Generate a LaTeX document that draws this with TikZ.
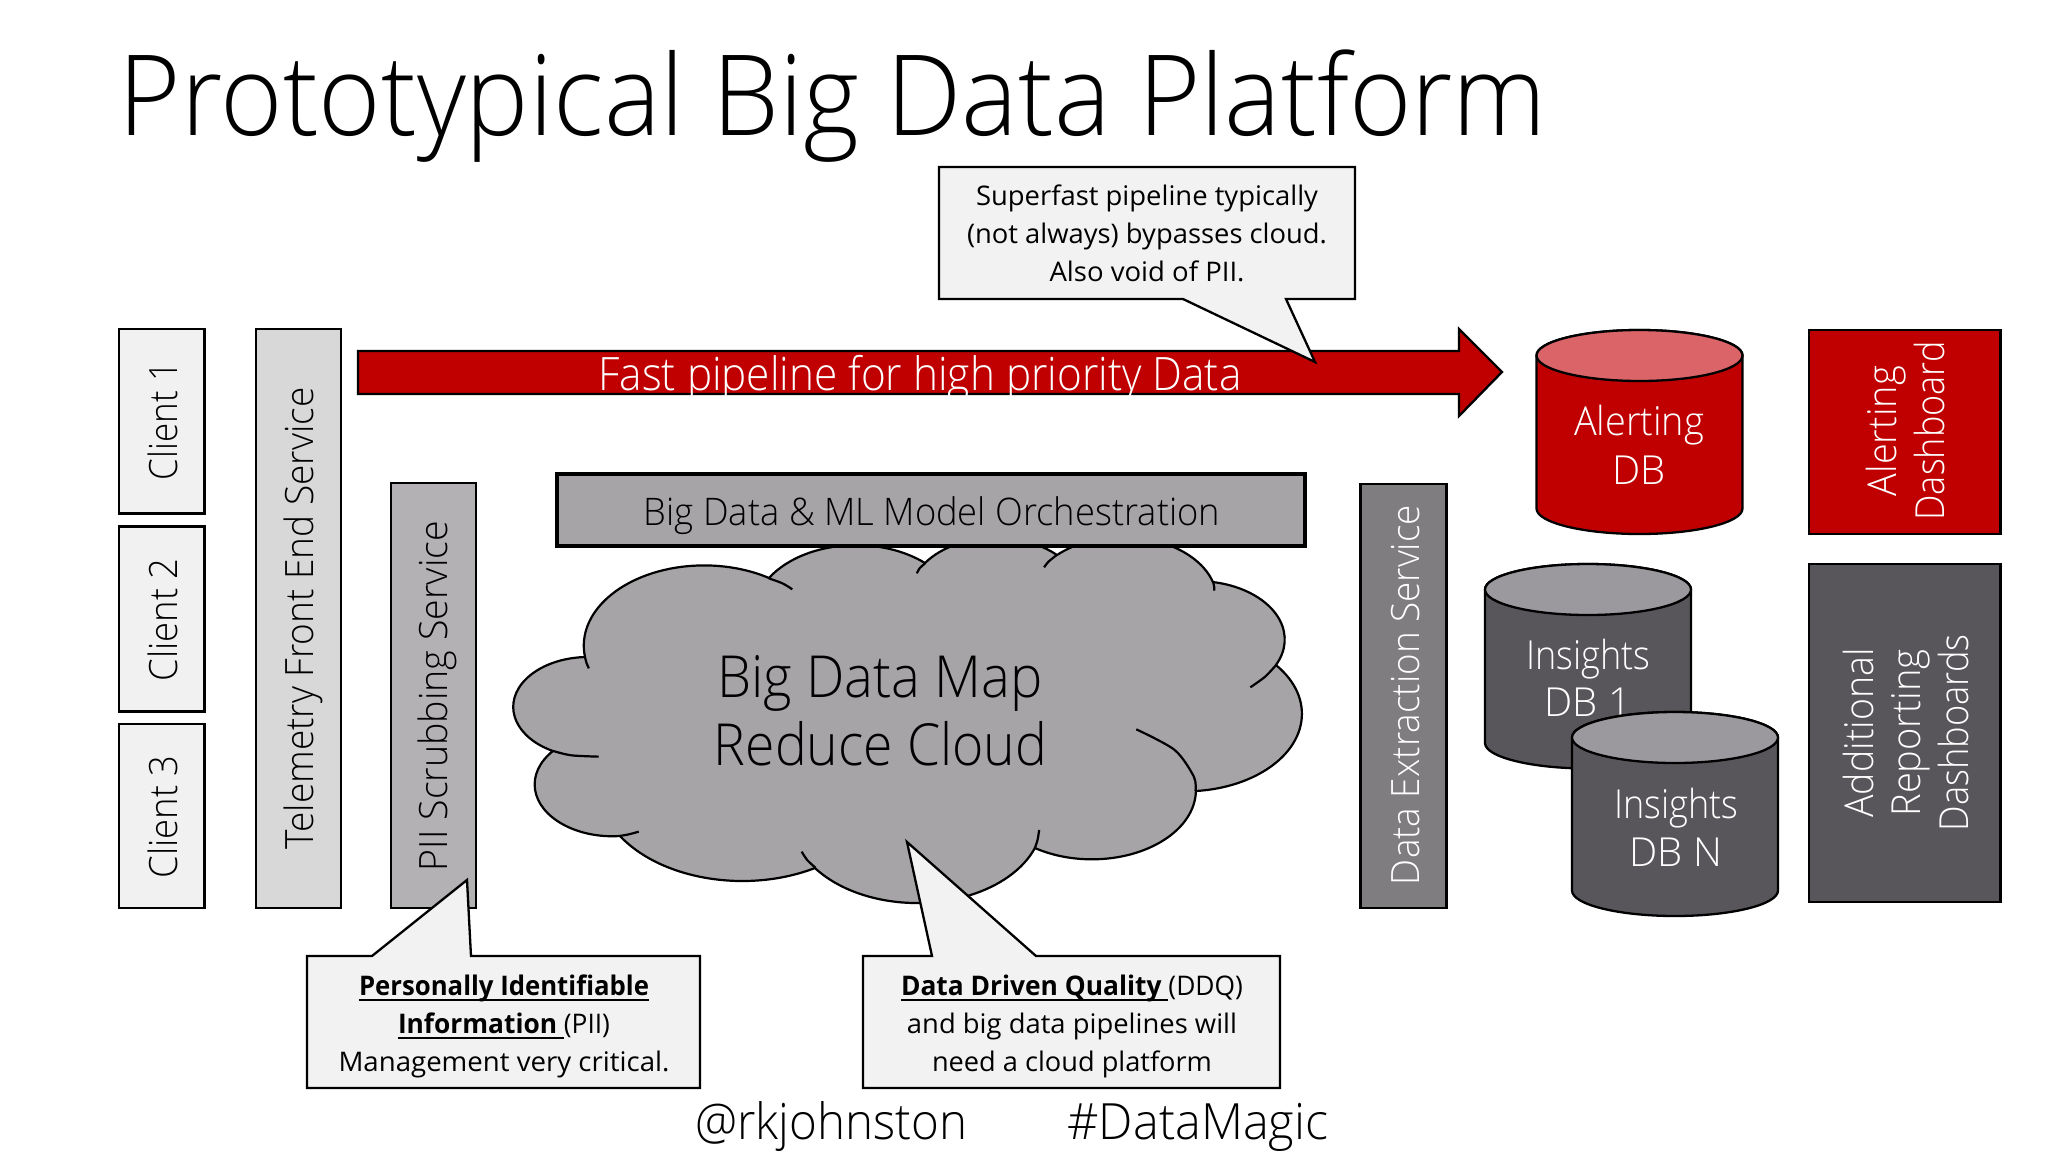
\documentclass[tikz,border=0pt]{standalone}
\usepackage{fontspec}
\usepackage{graphicx}
\setmainfont{Open Sans}
\newfontfamily\lightf{Open Sans Light}
\newfontfamily\notef{Open Sans}
\definecolor{cred}{HTML}{C00000}
\definecolor{credtop}{HTML}{DA6468}
\definecolor{cdark}{HTML}{58565A}
\definecolor{cdarktop}{HTML}{9B999D}
\definecolor{cext}{HTML}{7F7D80}
\definecolor{cpii}{HTML}{B3B1B3}
\definecolor{ctel}{HTML}{D9D8D9}
\definecolor{ccli}{HTML}{F2F1F2}
\definecolor{corch}{HTML}{A6A4A6}
\definecolor{ccall}{HTML}{F2F2F2}
\newcommand\fitw[2]{\resizebox{#1pt}{\height}{#2}}
\newcommand\fs[1]{\fontsize{#1}{#1}\selectfont}
\newcommand\ulbar[1]{\setbox0\hbox{#1}\rlap{\vrule width\wd0 height -3.6pt depth 5.9pt}\box0}
\newcommand\dbcyl[6]{%
  % cx, ytop, ybottom, rx, side, top
  \pgfmathsetmacro\hh{(#3-#2)/25.5-2}
  \begin{scope}[shift={(#1,#2+25.5)},x=#4pt,y=-25.5pt]
    \path[draw=black,line width=2.3pt,fill=#5]
      (-1,0) -- (-1,\hh) .. controls (-1,\hh+.55) and (-.55,\hh+1) .. (0,\hh+1)
      .. controls (.55,\hh+1) and (1,\hh+.55) .. (1,\hh) -- (1,0)
      .. controls (1,-.55) and (.55,-1) .. (0,-1) .. controls (-.55,-1) and (-1,-.55) .. (-1,0) -- cycle;
    \path[draw=black,line width=2.3pt,fill=#6]
      (-1,0) .. controls (-1,.55) and (-.55,1) .. (0,1) .. controls (.55,1) and (1,.55) .. (1,0)
      .. controls (1,-.55) and (.55,-1) .. (0,-1) .. controls (-.55,-1) and (-1,-.55) .. (-1,0) -- cycle;
  \end{scope}}
% elliptical arc through three points: name, start, middle, end (clockwise on the page)
\newcommand\lobeaspect{1.5}
\newcommand\lobecalc[7]{%
  \pgfmathsetmacro\lux{(#4-#2)/100}\pgfmathsetmacro\luy{(#5-#3)*\lobeaspect/100}%
  \pgfmathsetmacro\lvx{(#6-#2)/100}\pgfmathsetmacro\lvy{(#7-#3)*\lobeaspect/100}%
  \pgfmathsetmacro\ldd{2*(\lux*\lvy-\luy*\lvx)}%
  \pgfmathsetmacro\luu{\lux*\lux+\luy*\luy}\pgfmathsetmacro\lvv{\lvx*\lvx+\lvy*\lvy}%
  \pgfmathsetmacro\lcx{(\lvy*\luu-\luy*\lvv)/\ldd}%
  \pgfmathsetmacro\lcy{(\lux*\lvv-\lvx*\luu)/\ldd}%
  \pgfmathsetmacro\lrr{100*sqrt(\lcx*\lcx+\lcy*\lcy)}%
  \pgfmathsetmacro\lry{\lrr/\lobeaspect}%
  \pgfmathsetmacro\lst{atan2(-\lcy,-\lcx)}%
  \pgfmathsetmacro\len{atan2(\lvy-\lcy,\lvx-\lcx)}%
  \pgfmathsetmacro\ldl{mod(\len-\lst+720,360)}%
  \expandafter\xdef\csname sL#1\endcsname{\lst}%
  \expandafter\xdef\csname dL#1\endcsname{\ldl}%
  \expandafter\xdef\csname rL#1\endcsname{\lrr}%
  \expandafter\xdef\csname qL#1\endcsname{\lry}}
\newcommand\lobearc[1]{arc[start angle=\csname sL#1\endcsname,delta angle=\csname dL#1\endcsname,x radius=\csname rL#1\endcsname,y radius=\csname qL#1\endcsname]}
\tikzset{
  boxy/.style={draw=black,line width=2.3pt},
  callout/.style={draw=black,line width=2.3pt,fill=ccall,line join=miter},
  lab/.style={anchor=base,inner sep=0pt,outer sep=0pt},
  wlab/.style={lab,text=white},
  vlab/.style={anchor=base,rotate=90,inner sep=0pt,outer sep=0pt},
  cnote/.style={anchor=base,inner sep=0pt,outer sep=0pt,font=\notef\fs{27}},
  rim/.style={line width=2.2pt,draw=black},
}
\begin{document}
\begin{tikzpicture}[x=1pt,y=-1pt]
\useasboundingbox[fill=white] (0,0) rectangle (2048,1152);

\node[lab,font=\lightf\fs{112}] (title) at (833,135) {\fitw{1428}{Prototypical Big Data Platform}};

% Left columns
\path[boxy,fill=ccli] (119,329) rectangle (204.5,513.5);
\node[vlab,font=\lightf\fs{39}] (c1) at (177,421) {\fitw{118}{Client 1}};
\path[boxy,fill=ccli] (119,526.5) rectangle (204.5,711.5);
\node[vlab,font=\lightf\fs{39}] (c2) at (177,620) {\fitw{123}{Client 2}};
\path[boxy,fill=ccli] (119,724) rectangle (204.5,908);
\node[vlab,font=\lightf\fs{39}] (c3) at (177,817) {\fitw{123}{Client 3}};
\path[boxy,fill=ctel] (256,329) rectangle (341,908);
\node[vlab,font=\lightf\fs{39}] (tel) at (313.5,618.5) {\fitw{462}{Telemetry Front End Service}};
\path[boxy,fill=cpii] (391,483) rectangle (476,908);
\node[vlab,font=\lightf\fs{39}] (pii) at (447,696) {\fitw{350}{PII Scrubbing Service}};

% Cloud: each lobe is an arc through its two junctions and one point on its rim
\lobecalc{a}{585}{657}{664}{570}{769}{578}
\lobecalc{b}{769}{578}{840}{546}{925}{563}
\lobecalc{c}{925}{563}{990}{538}{1057}{555}
\lobecalc{d}{1057}{555}{1180}{550}{1213}{582}
\lobecalc{e}{1213}{582}{1271}{608}{1276}{665}
\lobecalc{f}{1276}{665}{1302}{713}{1196}{791}
\lobecalc{g}{1196}{791}{1164}{840}{1035}{848}
\lobecalc{h}{1035}{848}{917}{903}{815}{868}
\lobecalc{i}{815}{868}{741}{881}{620}{836}
\lobecalc{j}{620}{836}{552}{817}{553}{751}
\lobecalc{k}{553}{751}{514}{700}{585}{657}
\path[rim,fill=corch,line join=round] (585,657)
  \lobearc{a} \lobearc{b} \lobearc{c} \lobearc{d} \lobearc{e} \lobearc{f}
  \lobearc{g} \lobearc{h} \lobearc{i} \lobearc{j} \lobearc{k} -- cycle;
\begin{scope}[shift={(500,520)},x=0.5485pt,y=-0.3333pt]
\path[rim] plot[smooth] coordinates {(490,175)(515,190)(533,208)};
\path[rim] plot[smooth] coordinates {(775,130)(765,145)(760,160)};
\path[rim] plot[smooth] coordinates {(1015,105)(1000,125)(992,142)};
\path[rim] plot[smooth] coordinates {(1300,185)(1302,200)(1302,212)};
\path[rim] plot[smooth] coordinates {(1415,435)(1395,470)(1368,502)};
\path[rim] plot[smooth] coordinates {(1268,813)(1265,770)(1230,690)(1160,628)};
\path[rim] plot[smooth] coordinates {(975,985)(980,960)(983,930)};
\path[rim] plot[smooth] coordinates {(575,1043)(560,1020)(550,995)};
\path[rim] plot[smooth] coordinates {(218,948)(235,943)(253,935)};
\path[rim] plot[smooth] coordinates {(97,693)(130,706)(180,710)};
\path[rim] plot[smooth] coordinates {(155,412)(158,430)(162,445)};
\end{scope}
\node[lab,font=\lightf\fs{58}] (cl1) at (880,697) {\fitw{325}{Big Data Map}};
\node[lab,font=\lightf\fs{58}] (cl2) at (880.5,765) {\fitw{333}{Reduce Cloud}};

% Orchestration
\path[draw=black,line width=4.2pt,fill=corch] (557,474) rectangle (1305,546);
\node[lab,font=\lightf\fs{38}] (orch) at (932,525) {\fitw{576}{Big Data \& ML Model Orchestration}};

% Fast pipeline arrow
\path[draw=black,line width=2.3pt,fill=cred,line join=miter]
  (358,351) -- (1459,351) -- (1459,329) -- (1502,372) -- (1459,416) -- (1459,394) -- (358,394) -- cycle;
\node[wlab,font=\lightf\fs{46}] (fast) at (920,390) {\fitw{643}{Fast pipeline for high priority Data}};

% Data extraction
\path[boxy,fill=cext] (1360.5,484) rectangle (1446.5,908);
\node[vlab,font=\lightf\fs{39},text=white] (ext) at (1419,695) {\fitw{380}{Data Extraction Service}};

% Cylinders
\dbcyl{1639.5}{330}{534}{103}{cred}{credtop}
\node[wlab,font=\lightf\fs{40}] (a1) at (1639,435) {\fitw{130}{Alerting}};
\node[wlab,font=\lightf\fs{40}] (a2) at (1639,484) {DB};
\dbcyl{1588}{564}{768.5}{103}{cdark}{cdarktop}
\node[wlab,font=\lightf\fs{40}] (i1) at (1588,669) {\fitw{124}{Insights}};
\node[wlab,font=\lightf\fs{40}] (i2) at (1588,716) {DB 1};
\dbcyl{1675}{712}{916}{103}{cdark}{cdarktop}
\node[wlab,font=\lightf\fs{40}] (n1) at (1676,818) {\fitw{124}{Insights}};
\node[wlab,font=\lightf\fs{40}] (n2) at (1676,866) {DB N};

% Dashboards
\path[boxy,fill=cred] (1809,330) rectangle (2000.5,534);
\node[vlab,font=\lightf\fs{40},text=white] (d1) at (1896,431) {\fitw{130}{Alerting}};
\node[vlab,font=\lightf\fs{40},text=white] (d2) at (1944,431) {\fitw{179}{Dashboard}};
\path[boxy,fill=cdark] (1809,564) rectangle (2000.5,902);
\node[vlab,font=\lightf\fs{40},text=white] (e1) at (1873,733) {\fitw{169}{Additional}};
\node[vlab,font=\lightf\fs{40},text=white] (e2) at (1920,733) {\fitw{167}{Reporting}};
\node[vlab,font=\lightf\fs{40},text=white] (e3) at (1968,733) {\fitw{197}{Dashboards}};

% Callouts
\path[callout] (939,167) -- (1355,167) -- (1355,299) -- (1286,299) -- (1315,362) -- (1183,299) -- (939,299) -- cycle;
\node[cnote] (s1) at (1147,205) {\fitw{342}{Superfast pipeline typically}};
\node[cnote] (s2) at (1147,243) {\fitw{360}{(not always) bypasses cloud.}};
\node[cnote] (s3) at (1147,281) {\fitw{195}{Also void of PII.}};

\path[callout] (307,956) -- (372,956) -- (467,880) -- (471,956) -- (700,956) -- (700,1088) -- (307,1088) -- cycle;
\node[cnote] (p1) at (504,995) {\fitw{290}{\ulbar{\textbf{Personally Identifiable}}}};
\node[cnote] (p2) at (504,1033) {\fitw{212}{\ulbar{\textbf{Information\ }}(PII)}};
\node[cnote] (p3) at (504,1071) {\fitw{331}{Management very critical.}};

\path[callout] (863,956) -- (932,956) -- (907,842) -- (1036,956) -- (1280,956) -- (1280,1088) -- (863,1088) -- cycle;
\node[cnote] (q1) at (1072,995) {\fitw{342}{\ulbar{\textbf{Data Driven Quality\ }}(DDQ)}};
\node[cnote] (q2) at (1072,1033) {\fitw{330}{and big data pipelines will}};
\node[cnote] (q3) at (1072,1071) {\fitw{280}{need a cloud platform}};

% Footer
\node[lab,font=\lightf\fs{50}] (f1) at (831,1139) {\fitw{272}{@rkjohnston}};
\node[lab,font=\lightf\fs{50}] (f2) at (1198,1139) {\fitw{261}{\#DataMagic}};
\end{tikzpicture}
\end{document}
